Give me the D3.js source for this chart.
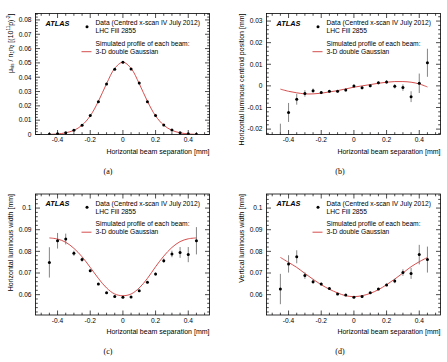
<!DOCTYPE html>
<html>
<head>
<meta charset="utf-8">
<script src="https://cdn.jsdelivr.net/npm/d3@7"></script>
<style>
  body { margin: 0; background: #fff; }
  svg text { font-family: "Liberation Sans", Arial, Helvetica, sans-serif; }
</style>
</head>
<body>
<script>
// beam separation points (mm)
var sep = [-0.45, -0.40, -0.35, -0.30, -0.25, -0.20, -0.15, -0.10, -0.05, 0,
           0.05, 0.10, 0.15, 0.20, 0.25, 0.30, 0.35, 0.40, 0.45];
var xTicks = [-0.4, -0.2, 0, 0.2, 0.4];
var xTickLabels = ["-0.4", "-0.2", "0", "0.2", "0.4"];

// (a) specific visible interaction rate
var rateData = [0.0002, 0.0005, 0.0012, 0.0030, 0.0065, 0.0133, 0.0229, 0.0353, 0.0456, 0.0505,
                0.0458, 0.0360, 0.0229, 0.0133, 0.0066, 0.0031, 0.0012, 0.0005, 0.0002];
var rateErr  = [0, 0, 0, 0, 0, 0, 0, 0, 0, 0, 0, 0, 0, 0, 0, 0, 0, 0, 0];
var rateFit  = [0.0001, 0.0004, 0.0012, 0.0029, 0.0065, 0.0130, 0.0232, 0.0355, 0.0462, 0.0505,
                0.0462, 0.0355, 0.0232, 0.0130, 0.0065, 0.0029, 0.0012, 0.0004, 0.0001];
var rateTicks = [0, 0.01, 0.02, 0.03, 0.04, 0.05, 0.06, 0.07, 0.08];
var rateTickLabels = ["0", "0.01", "0.02", "0.03", "0.04", "0.05", "0.06", "0.07", "0.08"];

// (b) horizontal luminous centroid position
var posData = [-0.0240, -0.0123, -0.0062, -0.0035, -0.0022, -0.0031, -0.0025, -0.0025, -0.0019, 0.0000,
               -0.0009, 0.0001, 0.0014, 0.0018, -0.0002, -0.0008, -0.0050, 0.0012, 0.0107];
var posErr  = [0.0065, 0.0044, 0.0025, 0.0015, 0.0010, 0.0007, 0.0006, 0.0006, 0.0007, 0.0007,
               0.0007, 0.0007, 0.0007, 0.0008, 0.0010, 0.0015, 0.0025, 0.0045, 0.0065];
var posFit  = [-0.0015, -0.0025, -0.0032, -0.0037, -0.0037, -0.0034, -0.0028, -0.0022, -0.0014, -0.0006,
               0.0000, 0.0006, 0.0012, 0.0017, 0.0020, 0.0020, 0.0017, 0.0009, -0.0005];
var posTicks = [-0.02, -0.01, 0, 0.01, 0.02, 0.03];
var posTickLabels = ["-0.02", "-0.01", "0", "0.01", "0.02", "0.03"];

// (c) horizontal luminous width
var hwData = [0.0749, 0.0849, 0.0857, 0.0791, 0.0762, 0.0711, 0.0649, 0.0609, 0.0592, 0.0588,
              0.0589, 0.0618, 0.0657, 0.0695, 0.0757, 0.0788, 0.0795, 0.0785, 0.0849];
var hwErr  = [0.0070, 0.0036, 0.0025, 0.0012, 0.0010, 0.0007, 0.0005, 0.0004, 0.0004, 0.0004,
              0.0004, 0.0004, 0.0005, 0.0007, 0.0010, 0.0015, 0.0025, 0.0035, 0.0063];
var hwFit  = [0.0862, 0.0857, 0.0842, 0.0814, 0.0775, 0.0726, 0.0675, 0.0631, 0.0603, 0.0595,
              0.0603, 0.0631, 0.0675, 0.0729, 0.0778, 0.0818, 0.0845, 0.0858, 0.0862];

// (d) vertical luminous width
var vwData = [0.0626, 0.0742, 0.0775, 0.0688, 0.0660, 0.0649, 0.0629, 0.0603, 0.0598, 0.0588,
              0.0591, 0.0609, 0.0626, 0.0645, 0.0663, 0.0702, 0.0698, 0.0785, 0.0762];
var vwErr  = [0.0070, 0.0040, 0.0030, 0.0015, 0.0010, 0.0006, 0.0005, 0.0004, 0.0004, 0.0004,
              0.0004, 0.0004, 0.0005, 0.0006, 0.0010, 0.0015, 0.0025, 0.0045, 0.0060];
var vwFit  = [0.0772, 0.0749, 0.0726, 0.0698, 0.0671, 0.0646, 0.0625, 0.0608, 0.0595, 0.0591,
              0.0595, 0.0606, 0.0623, 0.0646, 0.0672, 0.0700, 0.0729, 0.0752, 0.0772];
var widthTicks = [0.06, 0.07, 0.08, 0.09, 0.1];
var widthTickLabels = ["0.06", "0.07", "0.08", "0.09", "0.1"];

var legendLines = ["Data (Centred x-scan IV July 2012)", "LHC Fill 2855",
                   "Simulated profile of each beam:", "3-D double Gaussian"];

var panels = [
  { id: "a", left: 35.5, top: 13.5, y: [0, 0.0845], data: rateData, err: rateErr, fit: rateFit,
    ticks: rateTicks, labels: rateTickLabels, caption: "(a)", capX: 108, capY: 174 },
  { id: "b", left: 266.5, top: 13.5, y: [-0.0225, 0.0335], data: posData, err: posErr, fit: posFit,
    ticks: posTicks, labels: posTickLabels, title: "Horizontal luminous centroid position [mm]",
    caption: "(b)", capX: 340, capY: 174 },
  { id: "c", left: 35.5, top: 194, y: [0.0506, 0.1065], data: hwData, err: hwErr, fit: hwFit,
    ticks: widthTicks, labels: widthTickLabels, title: "Horizontal luminous width [mm]",
    caption: "(c)", capX: 108, capY: 354 },
  { id: "d", left: 266.5, top: 194, y: [0.0506, 0.1065], data: vwData, err: vwErr, fit: vwFit,
    ticks: widthTicks, labels: widthTickLabels, title: "Vertical luminous width [mm]",
    caption: "(d)", capX: 340, capY: 354 }
];

var W = 447, H = 362, pw = 174, ph = 121;
var red = "#d03a3a";

var svg = d3.select("body").append("svg")
    .attr("width", W)
    .attr("height", H);

panels.forEach(function(p) {
  var g = svg.append("g").attr("transform", "translate(" + p.left + "," + p.top + ")");
  var x = d3.scaleLinear().domain([-0.535, 0.53]).range([0, pw]);
  var y = d3.scaleLinear().domain(p.y).range([ph, 0]);

  g.append("clipPath").attr("id", "clip" + p.id)
    .append("rect").attr("width", pw).attr("height", ph);

  // ticks, inside on all four sides
  var xMinor = d3.range(-0.5, 0.5001, 0.05).filter(function(v) { return x(v) >= 0 && x(v) <= pw; });
  var step = (p.ticks[1] - p.ticks[0]) / 5;
  var yMinor = d3.range(p.ticks[0] - 5 * step, p.y[1] + 1e-9, step)
      .filter(function(v) { return v >= p.y[0] - 1e-9 && v <= p.y[1]; });

  var tk = g.append("g").attr("stroke", "#000").attr("stroke-width", 0.7);
  xMinor.forEach(function(v) {
    var major = xTicks.some(function(t) { return Math.abs(t - v) < 1e-6; });
    var L = major ? 4.5 : 2.3;
    tk.append("line").attr("x1", x(v)).attr("x2", x(v)).attr("y1", ph).attr("y2", ph - L);
    tk.append("line").attr("x1", x(v)).attr("x2", x(v)).attr("y1", 0).attr("y2", L);
  });
  yMinor.forEach(function(v) {
    var major = p.ticks.some(function(t) { return Math.abs(t - v) < 1e-6; });
    var L = major ? 4.5 : 2.3;
    tk.append("line").attr("x1", 0).attr("x2", L).attr("y1", y(v)).attr("y2", y(v));
    tk.append("line").attr("x1", pw).attr("x2", pw - L).attr("y1", y(v)).attr("y2", y(v));
  });

  // tick labels
  g.selectAll(".xl").data(xTicks).enter().append("text")
    .attr("x", function(d) { return x(d); })
    .attr("y", ph + 7.8)
    .attr("text-anchor", "middle")
    .attr("font-size", 6.6)
    .text(function(d, i) { return xTickLabels[i]; });

  g.selectAll(".yl").data(p.ticks).enter().append("text")
    .attr("x", -4)
    .attr("y", function(d) { return y(d) + 2.3; })
    .attr("text-anchor", "end")
    .attr("font-size", 6.6)
    .text(function(d, i) { return p.labels[i]; });

  // axis titles
  g.append("text")
    .attr("x", pw).attr("y", ph + 19.3)
    .attr("text-anchor", "end")
    .attr("font-size", 7)
    .text("Horizontal beam separation [mm]");

  var yt = g.append("text")
    .attr("transform", "translate(-23,0) rotate(-90)")
    .attr("text-anchor", "end")
    .attr("font-size", 7);
  if (p.title) {
    yt.text(p.title);
  } else {
    yt.append("tspan").text("\u03bc");
    yt.append("tspan").attr("font-size", 4.6).attr("dy", 1.5).text("vis");
    yt.append("tspan").attr("dy", -1.5).text(" / n");
    yt.append("tspan").attr("font-size", 4.6).attr("dy", 1.5).text("1");
    yt.append("tspan").attr("dy", -1.5).text("n");
    yt.append("tspan").attr("font-size", 4.6).attr("dy", 1.5).text("2");
    yt.append("tspan").attr("dy", -1.5).text(" [(10");
    yt.append("tspan").attr("font-size", 4.6).attr("dy", -2.6).text("11");
    yt.append("tspan").attr("dy", 2.6).text("p)");
    yt.append("tspan").attr("font-size", 4.6).attr("dy", -2.6).text("-2");
    yt.append("tspan").attr("dy", 2.6).text("]");
  }

  // fit curve
  var line = d3.line()
    .x(function(d, i) { return x(sep[i]); })
    .y(function(d) { return y(d); })
    .curve(d3.curveCatmullRom);
  g.append("path")
    .attr("clip-path", "url(#clip" + p.id + ")")
    .attr("d", line(p.fit))
    .attr("fill", "none")
    .attr("stroke", red)
    .attr("stroke-width", 0.9);

  // data points with error bars
  var pts = g.append("g").attr("clip-path", "url(#clip" + p.id + ")");
  pts.selectAll("line").data(p.data).enter().append("line")
    .attr("x1", function(d, i) { return x(sep[i]); })
    .attr("x2", function(d, i) { return x(sep[i]); })
    .attr("y1", function(d, i) { return y(d - p.err[i]); })
    .attr("y2", function(d, i) { return y(d + p.err[i]); })
    .attr("stroke", "#666")
    .attr("stroke-width", 0.8);
  pts.selectAll("circle").data(p.data).enter().append("circle")
    .attr("cx", function(d, i) { return x(sep[i]); })
    .attr("cy", function(d) { return y(d); })
    .attr("r", 1.5)
    .attr("fill", "#000");

  // frame
  g.append("rect")
    .attr("width", pw).attr("height", ph)
    .attr("fill", "none").attr("stroke", "#000").attr("stroke-width", 0.8);

  // ATLAS label and legend
  g.append("text")
    .attr("x", 10).attr("y", 12)
    .attr("font-size", 7.3)
    .attr("font-weight", "bold")
    .attr("font-style", "italic")
    .text("ATLAS");
  g.append("circle").attr("cx", 51.5).attr("cy", 13.2).attr("r", 1.5).attr("fill", "#000");
  g.append("line")
    .attr("x1", 46).attr("x2", 56).attr("y1", 38.2).attr("y2", 38.2)
    .attr("stroke", red).attr("stroke-width", 0.9);
  var ly = [11.6, 19.6, 32.2, 40];
  legendLines.forEach(function(t, i) {
    g.append("text")
      .attr("x", 60).attr("y", ly[i])
      .attr("font-size", 6.7)
      .text(t);
  });

  svg.append("text")
    .attr("x", p.capX).attr("y", p.capY)
    .attr("text-anchor", "middle")
    .attr("font-family", "'Liberation Serif', 'Times New Roman', serif")
    .style("font-family", "'Liberation Serif', 'Times New Roman', serif")
    .attr("font-size", 8)
    .text(p.caption);
});
</script>
</body>
</html>
